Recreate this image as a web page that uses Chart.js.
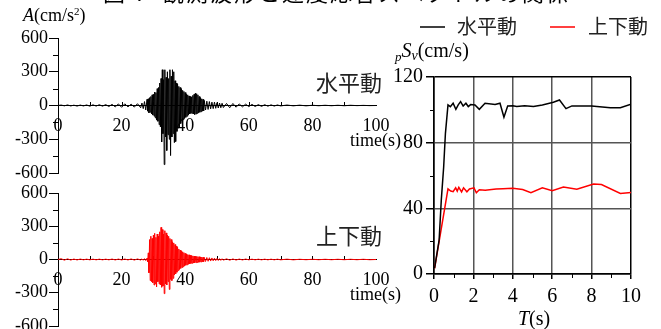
<!DOCTYPE html>
<html>
<head>
<meta charset="utf-8">
<script src="https://cdn.jsdelivr.net/npm/chart.js@4.4.1/dist/chart.umd.min.js"></script>
<style>
html, body { margin: 0; padding: 0; background: #fff; overflow: hidden; }
#wrap { position: relative; width: 661px; height: 329px; }
canvas { position: absolute; left: 0; top: 0; }
</style>
</head>
<body>
<div id="wrap">
  <canvas id="horiz" width="661" height="329"></canvas>
  <canvas id="vert" width="661" height="329"></canvas>
  <canvas id="spec" width="661" height="329"></canvas>
</div>
<script>
// acceleration records, time in s
const accTime = [
  0,1,2,3,4,5,6,7,8,9,10,11,12,13,14,15,16,17,18,19,20,21,22,23,24,25,
  26,26.4,26.8,27.2,27.6,
  28,28.2,28.4,28.6,28.8,29,29.2,29.4,29.6,29.8,
  30,30.2,30.4,30.6,30.8,31,31.2,31.4,31.6,31.8,
  32,32.2,32.4,32.6,32.8,33,33.2,33.4,33.6,33.8,
  34,34.2,34.4,34.6,34.8,35,35.2,35.4,35.6,35.8,
  36,36.2,36.4,36.6,36.8,37,37.2,37.4,37.6,37.8,
  38,38.2,38.4,38.6,38.8,39,39.2,39.4,39.6,39.8,
  40,40.2,40.4,40.6,40.8,41,41.2,41.4,41.6,41.8,
  42,42.2,42.4,42.6,42.8,43,43.2,43.4,43.6,43.8,
  44,44.2,44.4,44.6,44.8,45,45.2,45.4,45.6,45.8,
  46,
  46.4,46.8,47.2,47.6,48,48.4,48.8,49.2,49.6,50,50.4,50.8,51.2,51.6,52,
  53,54,55,56,57,58,59,60,61,62,63,64,65,66,67,68,69,70,
  72,74,76,78,80,82,84,86,88,90,92,94,96,98,100
];
// horizontal (cm/s2)
const hAccel = [
  0,4,-3,5,-4,3,-5,4,-4,5,-6,6,-5,7,-6,8,-9,10,-12,14,-16,15,-12,12,-14,16,
  -20,22,-28,35,-40,
  55,-50,60,-65,70,-60,80,-75,95,-85,
  100,-95,120,-110,115,-130,150,-140,160,-170,
  200,-190,240,-324,318,-250,230,-525,318,-280,
  250,-400,300,-260,240,-300,318,-445,260,-280,
  318,-250,300,-330,220,-320,200,-230,190,-200,
  170,-190,160,-160,150,-140,135,-125,125,-115,
  115,-105,100,-95,95,-85,85,-75,80,-70,
  75,-70,90,-75,100,-80,110,-75,105,-70,
  95,-65,80,-60,70,-55,60,-50,55,-48,
  45,
  -40,38,-35,35,-30,30,-28,30,-25,25,-22,22,-20,20,-18,
  18,-20,18,-15,14,-12,12,-10,10,-9,8,-8,7,-6,6,-5,5,-4,
  4,-3,3,-3,2,-2,2,-2,2,-2,2,-1,1,-1,0
];
// vertical (cm/s2)
const vAccel = [
  0,7,-6,6,-5,4,-4,4,-3,3,-3,3,-3,3,-3,3,-3,4,-4,4,-4,4,-4,5,-5,5,
  -5,6,-7,8,-10,
  12,-20,60,-120,180,-190,210,-200,190,-210,
  220,-230,236,-220,200,-248,230,-200,210,-220,
  250,-230,290,-250,270,-240,230,-308,260,-220,
  240,-230,220,-200,210,-270,190,-180,180,-190,
  160,-170,150,-140,135,-130,120,-115,110,-100,
  95,-90,85,-80,78,-72,70,-65,62,-58,
  55,-52,50,-48,45,-43,42,-40,38,-36,
  35,-34,33,-32,31,-30,30,-28,28,-27,
  26,-25,25,-24,23,-22,22,-21,20,-20,
  19,
  -18,18,-16,16,-14,14,-12,12,-10,10,-9,8,-8,7,-6,
  6,-6,5,-5,4,-4,4,-3,3,-3,3,-3,3,-3,3,-3,3,-3,
  3,-3,2,-2,2,-2,2,-2,2,-2,2,-2,2,-2,0
];

// pseudo velocity response spectra
const specTH = [0.03,0.26,0.37,0.49,0.58,0.71,0.83,0.97,1.11,1.23,1.35,1.48,1.62,1.74,1.86,2.08,2.3,2.59,3.1,3.35,
  3.55,3.74,4.0,4.2,4.6,5.05,5.5,6.06,6.37,6.7,7.0,8.0,8.95,9.46,10.0];
const specSvH = [3.5,20.7,45,65,85.7,103,101.9,104,100.3,103,105,102.3,104,102,103.2,103,100.3,104,103.2,104,
  95.5,102.4,102.5,102,102.5,102,103,104.6,106,100.7,102.4,102.4,101.3,101.3,103.4];
const specTV = [0.03,0.71,0.85,0.97,1.1,1.18,1.26,1.4,1.5,1.67,1.8,2.03,2.15,2.3,2.6,3.15,3.5,4.0,4.5,4.92,
  5.5,6.0,6.57,7.25,8.1,8.5,9.46,10.0];
const specSvV = [3.5,51.8,50.5,50.1,52.5,50.5,52.8,50,52.5,50.1,51.8,52.5,49.5,51.3,51,51.8,52,52.3,51.5,49.5,
  52.5,50.7,53,51.6,54.8,54.5,49.1,49.6];

const seriesNames = ['水平動', '上下動'];
const seriesColors = ['#000', '#ff0000'];

const serif = 'Liberation Serif';
const gothic = '"Noto Sans CJK JP"';
Chart.defaults.font.family = serif;
Chart.defaults.color = '#000';

function pts(xs, ys) { return xs.map((x, i) => ({ x: x, y: ys[i] })); }

// draws a row of text pieces, left to right
function drawRun(ctx, run) {
  ctx.letterSpacing = run.spacing || '0px';
  let w = 0;
  run.parts.forEach(p => { ctx.font = p.font; w += ctx.measureText(p.text).width; });
  let x = run.align === 'right' ? run.x - w : run.x;
  ctx.textBaseline = 'alphabetic';
  ctx.textAlign = 'left';
  run.parts.forEach(p => {
    ctx.font = p.font;
    ctx.fillStyle = p.color || '#000';
    ctx.fillText(p.text, x, run.y + (p.dy || 0));
    x += ctx.measureText(p.text).width;
  });
  ctx.letterSpacing = '0px';
}

const extras = {
  id: 'extras',
  beforeDatasetsDraw(chart, args, opts) {
    const ctx = chart.ctx, xs = chart.scales.x, ys = chart.scales.y;
    ctx.save();
    ctx.strokeStyle = '#000';
    ctx.lineWidth = 1;
    (opts.minorY || []).forEach(v => {
      const y = Math.round(ys.getPixelForValue(v)) + 0.5;
      ctx.beginPath(); ctx.moveTo(xs.left - opts.minorYLen, y); ctx.lineTo(xs.left, y); ctx.stroke();
    });
    const base = opts.xBase != null ? Math.round(ys.getPixelForValue(opts.xBase)) : ys.bottom;
    (opts.minorX || []).forEach(v => {
      const x = Math.round(xs.getPixelForValue(v)) + 0.5;
      ctx.beginPath(); ctx.moveTo(x, base); ctx.lineTo(x, base + opts.minorXLen); ctx.stroke();
    });
    ctx.restore();
  },
  afterDraw(chart, args, opts) {
    const ctx = chart.ctx;
    ctx.save();
    (opts.swatches || []).forEach(s => {
      ctx.strokeStyle = s.color; ctx.lineWidth = 1.5;
      ctx.beginPath(); ctx.moveTo(s.x, s.y); ctx.lineTo(s.x + s.w, s.y); ctx.stroke();
    });
    (opts.texts || []).forEach(run => drawRun(ctx, run));
    ctx.restore();
  }
};

function accConfig(values, color, pad, extraOpts) {
  return {
    type: 'line',
    data: {
      datasets: [{
        data: pts(accTime, values),
        borderColor: color,
        borderWidth: 1,
        pointRadius: 0,
        tension: 0
      }]
    },
    options: {
      responsive: false,
      animation: false,
      devicePixelRatio: 1,
      events: [],
      layout: { padding: pad },
      scales: {
        x: {
          type: 'linear', min: 0, max: 100,
          position: { y: 0 },
          afterFit(s) { s.height = 0; s.paddingLeft = 0; s.paddingRight = 0; },
          ticks: { stepSize: 20, font: { size: 18 }, color: '#000', padding: 10, maxRotation: 0, autoSkip: false },
          grid: { display: false, drawTicks: false },
          border: { color: '#000', width: 1 }
        },
        y: {
          type: 'linear', min: -600, max: 600,
          afterFit(s) { s.width = 58; s.paddingTop = 0; s.paddingBottom = 0; },
          ticks: { stepSize: 300, font: { size: 18 }, color: '#000', padding: 1 },
          grid: { drawOnChartArea: false, tickLength: 9, color: '#000', tickColor: '#000' },
          border: { color: '#000', width: 1 }
        }
      },
      plugins: {
        legend: { display: false },
        tooltip: { enabled: false },
        extras: extraOpts
      }
    },
    plugins: [extras]
  };
}

const numFont = '18px ' + serif;
const numItalic = 'italic 18px ' + serif;

new Chart(document.getElementById('horiz'), accConfig(hAccel, seriesColors[0],
  { left: 0, top: 38, right: 285, bottom: 156 },
  {
    minorY: [-450, -150, 150, 450], minorYLen: 5,
    minorX: [10, 20, 30, 40, 50, 60, 70, 80, 90], minorXLen: -4, xBase: 0,
    texts: [
      { x: 103, y: 1, spacing: '2px', parts: [{ text: '図 7  観測波形と速度応答スペクトルの関係', font: '22px ' + gothic }] },
      { x: 23, y: 21, parts: [
        { text: 'A', font: numItalic },
        { text: '(cm/s', font: numFont },
        { text: '2', font: '11px ' + serif, dy: -6 },
        { text: ')', font: numFont }
      ] },
      { x: 382, y: 91, align: 'right', parts: [{ text: seriesNames[0], font: '22px ' + gothic, color: '#222' }] },
      { x: 401, y: 146, align: 'right', parts: [{ text: 'time(s)', font: numFont }] }
    ]
  }));

new Chart(document.getElementById('vert'), accConfig(vAccel, seriesColors[1],
  { left: 0, top: 193, right: 285, bottom: 3 },
  {
    minorY: [-450, -150, 150, 450], minorYLen: 5,
    minorX: [10, 20, 30, 40, 50, 60, 70, 80, 90], minorXLen: -4, xBase: 0,
    texts: [
      { x: 382, y: 244, align: 'right', parts: [{ text: seriesNames[1], font: '22px ' + gothic, color: '#222' }] },
      { x: 401, y: 300, align: 'right', parts: [{ text: 'time(s)', font: numFont }] }
    ]
  }));

const edgeX = c => (c.tick && (c.tick.value === 0 || c.tick.value === 10)) ? '#000' : '#555';
const edgeY = c => (c.tick && (c.tick.value === 0 || c.tick.value === 120)) ? '#000' : '#555';

new Chart(document.getElementById('spec'), {
  type: 'line',
  data: {
    datasets: [
      { label: seriesNames[0], data: pts(specTH, specSvH), borderColor: seriesColors[0], borderWidth: 1.5, pointRadius: 0, tension: 0 },
      { label: seriesNames[1], data: pts(specTV, specSvV), borderColor: seriesColors[1], borderWidth: 1.5, pointRadius: 0, tension: 0 }
    ]
  },
  options: {
    responsive: false,
    animation: false,
    devicePixelRatio: 1,
    events: [],
    layout: { padding: { left: 384, top: 77, right: 30, bottom: 0 } },
    scales: {
      x: {
        type: 'linear', min: 0, max: 10,
        afterFit(s) { s.height = 55; s.paddingLeft = 0; s.paddingRight = 0; },
        ticks: { stepSize: 2, font: { size: 20 }, color: '#000', padding: 6, maxRotation: 0, autoSkip: false },
        grid: { color: edgeX, lineWidth: 1.5, tickLength: 5, tickColor: '#000' },
        border: { color: '#000', width: 1.5 }
      },
      y: {
        type: 'linear', min: 0, max: 120,
        afterFit(s) { s.width = 50; s.paddingTop = 0; s.paddingBottom = 0; },
        ticks: { stepSize: 40, font: { size: 20 }, color: '#000', padding: 3 },
        grid: { color: edgeY, lineWidth: 1.5, tickLength: 8, tickColor: '#000' },
        border: { color: '#000', width: 1.5 }
      }
    },
    plugins: {
      legend: { display: false },
      tooltip: { enabled: false },
      extras: {
        minorY: [20, 60, 100], minorYLen: 4,
        minorX: [1, 3, 5, 7, 9], minorXLen: 4,
        swatches: [
          { x: 420, y: 27, w: 25, color: seriesColors[0] },
          { x: 550, y: 27, w: 25, color: seriesColors[1] }
        ],
        texts: [
          { x: 457, y: 34, parts: [{ text: seriesNames[0], font: '20px ' + gothic, color: '#222' }] },
          { x: 588, y: 34, parts: [{ text: seriesNames[1], font: '20px ' + gothic, color: '#222' }] },
          { x: 395, y: 57, parts: [
            { text: 'p', font: 'italic 13px ' + serif, dy: 4 },
            { text: 'S', font: 'italic 20px ' + serif },
            { text: 'v', font: 'italic 14px ' + serif, dy: 3 },
            { text: '(cm/s)', font: '20px ' + serif }
          ] },
          { x: 518, y: 325, parts: [
            { text: 'T', font: 'italic 20px ' + serif },
            { text: '(s)', font: '20px ' + serif }
          ] }
        ]
      }
    }
  },
  plugins: [extras]
});
</script>
</body>
</html>
